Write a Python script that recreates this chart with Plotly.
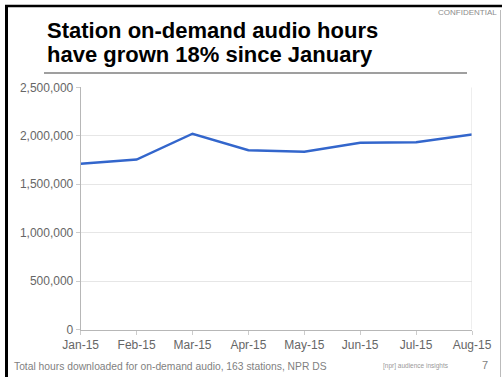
import plotly.graph_objects as go

months = ["Jan-15", "Feb-15", "Mar-15", "Apr-15", "May-15", "Jun-15", "Jul-15", "Aug-15"]
hours = [1712000, 1754000, 2021000, 1850000, 1836000, 1928000, 1932000, 2014000]
y_ticks = [0, 500000, 1000000, 1500000, 2000000, 2500000]
y_tick_labels = ["0", "500,000", "1,000,000", "1,500,000", "2,000,000", "2,500,000"]

title_lines = ["Station on-demand audio hours", "have grown 18% since January"]
footer_text = "Total hours downloaded for on-demand audio, 163 stations, NPR DS"

W, H = 502, 377
FONT = "Liberation Sans, Arial, sans-serif"

def px(x):
    return x / W

def py(y):
    return 1 - y / H

fig = go.Figure()
fig.add_trace(go.Scatter(
    x=months, y=hours, mode="lines",
    line=dict(color="#3366CC", width=2.5),
    hoverinfo="skip", showlegend=False,
))

fig.update_layout(
    width=W, height=H,
    margin=dict(l=0, r=0, t=0, b=0, autoexpand=False),
    paper_bgcolor="white", plot_bgcolor="white",
    font=dict(family=FONT, color="#666666"),
    xaxis=dict(
        domain=[px(80.7), px(472)],
        type="category", range=[0, 7],
        automargin=False,
        showgrid=False, zeroline=False,
        showline=True, linecolor="#b7b7b7", linewidth=1,
        ticks="outside", ticklen=4, tickcolor="#cccccc",
        tickfont=dict(size=12, color="#666666", family=FONT),
        anchor="y",
    ),
    yaxis=dict(
        domain=[py(329.5), py(87.3)],
        range=[0, 2500000],
        automargin=False,
        tickvals=y_ticks, ticktext=y_tick_labels,
        showgrid=True, gridcolor="#e6e6e6", gridwidth=1,
        zeroline=False,
        showline=True, linecolor="#b7b7b7", linewidth=1,
        ticks="outside", ticklen=4, tickcolor="#cccccc",
        tickfont=dict(size=12, color="#666666", family=FONT),
        anchor="x",
    ),
)

shapes = [
    # right edge of plot area
    dict(type="line", xref="x", yref="y", x0=7, x1=7, y0=0, y1=2500000,
         line=dict(color="#dddddd", width=1)),
    # title rule
    dict(type="line", xref="paper", yref="paper", x0=px(44), x1=px(467),
         y0=py(73), y1=py(73), line=dict(color="#7f7f7f", width=1.5)),
    # slide borders
    dict(type="line", xref="paper", yref="paper", x0=px(5), x1=px(502),
         y0=py(6), y1=py(6), line=dict(color="#000000", width=2.5)),
    dict(type="line", xref="paper", yref="paper", x0=px(6.5), x1=px(6.5),
         y0=py(5), y1=py(377), line=dict(color="#000000", width=3)),
    dict(type="line", xref="paper", yref="paper", x0=px(500.5), x1=px(500.5),
         y0=py(10), y1=py(377), line=dict(color="#bbbbbb", width=1)),
]
fig.update_layout(shapes=shapes)

annotations = [
    dict(text="<b>" + title_lines[0] + "</b>", x=px(45), y=py(30), xref="paper", yref="paper",
         xanchor="left", yanchor="middle", showarrow=False, align="left",
         font=dict(size=22, color="#000000", family=FONT)),
    dict(text="<b>" + title_lines[1] + "</b>", x=px(45), y=py(55), xref="paper", yref="paper",
         xanchor="left", yanchor="middle", showarrow=False, align="left",
         font=dict(size=22, color="#000000", family=FONT)),
    dict(text="CONFIDENTIAL", x=px(499), y=py(13), xref="paper", yref="paper",
         xanchor="right", yanchor="middle", showarrow=False,
         font=dict(size=8, color="#8c8c8c", family=FONT)),
    dict(text=footer_text, x=px(12), y=py(366), xref="paper", yref="paper",
         xanchor="left", yanchor="middle", showarrow=False,
         font=dict(size=10.3, color="#7f7f7f", family=FONT)),
    dict(text="[npr] audience insights", x=px(381), y=py(366), xref="paper", yref="paper",
         xanchor="left", yanchor="middle", showarrow=False,
         font=dict(size=6.5, color="#999999", family=FONT)),
    dict(text="7", x=px(490), y=py(365), xref="paper", yref="paper",
         xanchor="right", yanchor="middle", showarrow=False,
         font=dict(size=11, color="#7f7f7f", family=FONT)),
]
fig.update_layout(annotations=annotations)

fig.write_html("out.html", config={"displayModeBar": False})
